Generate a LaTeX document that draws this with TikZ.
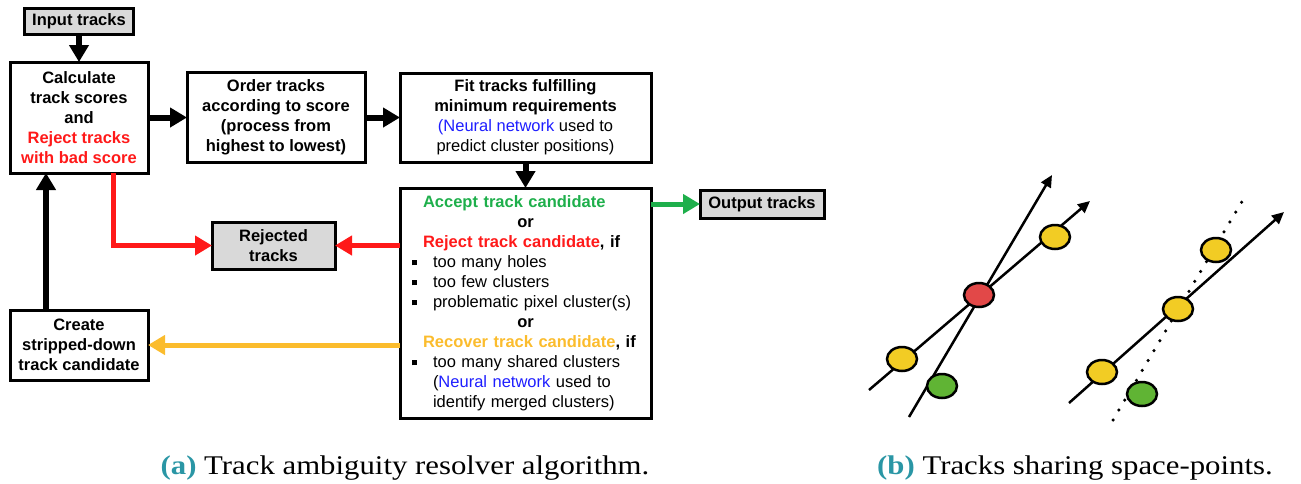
\documentclass[tikz,border=0pt]{standalone}
\usepackage{fontspec}
\newfontfamily\boxfont{Liberation Sans}
\newfontfamily\capfont[FakeStretch=1.14]{Liberation Serif}
\usetikzlibrary{arrows.meta,positioning,shapes.geometric}
\definecolor{rejred}{RGB}{255,25,25}
\definecolor{accgreen}{RGB}{30,175,75}
\definecolor{recorange}{RGB}{251,188,45}
\definecolor{nnblue}{RGB}{30,30,255}
\definecolor{termgray}{RGB}{217,217,217}
\definecolor{hityellow}{RGB}{242,204,36}
\definecolor{hitred}{RGB}{226,72,72}
\definecolor{hitgreen}{RGB}{96,180,52}
\definecolor{capteal}{RGB}{42,150,165}
\newcommand{\nn}{\textcolor{nnblue}{Neural network}}
\newcommand{\itm}[1]{\makebox[28pt][l]{\hspace{7pt}\rule[2pt]{5pt}{5pt}}#1}
\newcommand{\sublbl}[1]{\textcolor{capteal}{\bfseries(#1)}}

\begin{document}
\begin{tikzpicture}[
  x=1pt, y=-1pt, >=Latex,
  box/.style={draw, line width=3pt, align=center, inner sep=3pt, outer sep=0pt,
              font=\boxfont\bfseries\fontsize{16.5}{20}\selectfont},
  term/.style={box, fill=termgray},
  flow/.style={-{Triangle[length=17pt,width=19pt]}, line width=6pt},
  trk/.style={line width=2.5pt, -{Triangle[length=12pt,width=11pt]}},
  dots/.style={line width=3.5pt, line cap=round, dash pattern=on 0pt off 11.5pt},
  hit/.style={ellipse, draw, line width=2.5pt, minimum width=30pt,
              minimum height=24pt, inner sep=0pt},
  captext/.style={font=\capfont\fontsize{27}{32}\selectfont, anchor=base}]
\useasboundingbox (0,0) rectangle (1301,483);
% (a) resolver flow
\node[box, minimum width=138pt, minimum height=111pt] (calc) at (79,117.5)
  {Calculate\\track scores\\and\\\textcolor{rejred}{Reject tracks}\\\textcolor{rejred}{with bad score}};
\node[term, minimum width=109pt, minimum height=26pt, above=28pt of calc] (input) {Input tracks};
\node[box, minimum width=178pt, minimum height=90pt, right=39pt of calc] (order)
  {Order tracks\\according to score\\(process from\\highest to lowest)};
\node[box, minimum width=251pt, minimum height=89pt, right=35pt of order] (fit)
  {Fit tracks fulfilling\\minimum requirements\\
   \mdseries\textcolor{nnblue}{(}\nn{} used to\\\mdseries predict cluster positions)};
\node[box, minimum width=251pt, minimum height=230pt, text width=241pt, align=left,
      below=26pt of fit] (cand)
  {\hspace*{18pt}\textcolor{accgreen}{Accept track candidate}\\
   \makebox[241pt]{or}\\
   \hspace*{18pt}\textcolor{rejred}{Reject track candidate}, if\\
   \mdseries\itm{too many holes}\\
   \itm{too few clusters}\\
   \itm{problematic pixel cluster(s)}\\
   \makebox[241pt]{\bfseries or}\\
   \bfseries\hspace*{18pt}\textcolor{recorange}{Recover track candidate}, if\\
   \mdseries\itm{too many shared clusters}\\
   \hspace*{28pt}(\nn{} used to\\
   \hspace*{28pt}identify merged clusters)};
\node[term, minimum width=124pt, minimum height=28pt, anchor=west] (output) at (700,204) {Output tracks};
\node[term, minimum width=123pt, minimum height=47pt] (rej) at (273.5,245.5) {Rejected\\tracks};
\node[box, minimum width=138pt, minimum height=70pt, below=137pt of calc] (strip)
  {Create\\stripped-down\\track candidate};
\draw[flow] (input) -- (calc);
\draw[flow] (calc) -- (order);
\draw[flow] (order) -- (fit);
\draw[flow] (fit) -- (cand);
\draw[flow, accgreen, line width=5pt] (cand.east |- output) -- (output);
\draw[flow, rejred, line width=5pt] (cand.west |- rej) -- (rej);
\draw[flow, rejred, line width=5pt] ([xshift=34pt]calc.south) |- (rej);
\draw[flow, recorange, line width=5pt] (cand.west |- strip) -- (strip);
\draw[flow] ([xshift=-33pt]strip.north) -- ([xshift=-33pt]calc.south);
% (b) shared space-points
\coordinate (a0) at (869,390);  \coordinate (a1) at (1090,201);
\coordinate (b0) at (909,417);  \coordinate (b1) at (1052,175);
\coordinate (c0) at (1069,403); \coordinate (c1) at (1284,212);
\coordinate (d0) at (1113,420); \coordinate (d1) at (1247,193);
\draw[trk] (a0) -- (a1);
\draw[trk] (b0) -- (b1);
\draw[trk] (c0) -- (c1);
\draw[dots] (d0) -- (d1);
\node[hit, fill=hityellow] (ya) at (902,359) {};
\node[hit, fill=hitred] (shared) at (979,295) {};
\node[hit, fill=hityellow] (yb) at (1055,237) {};
\node[hit, fill=hitgreen] (ga) at (942,386) {};
\node[hit, fill=hityellow] (yc) at (1102,372) {};
\node[hit, fill=hityellow] (yd) at (1178,309) {};
\node[hit, fill=hityellow] (ye) at (1216,250) {};
\node[hit, fill=hitgreen] (gb) at (1142,394) {};
% captions
\node[captext] (capa) at (405,474) {\sublbl{a} Track ambiguity resolver algorithm.};
\node[captext] (capb) at (1075,474) {\sublbl{b} Tracks sharing space-points.};
\end{tikzpicture}
\end{document}
